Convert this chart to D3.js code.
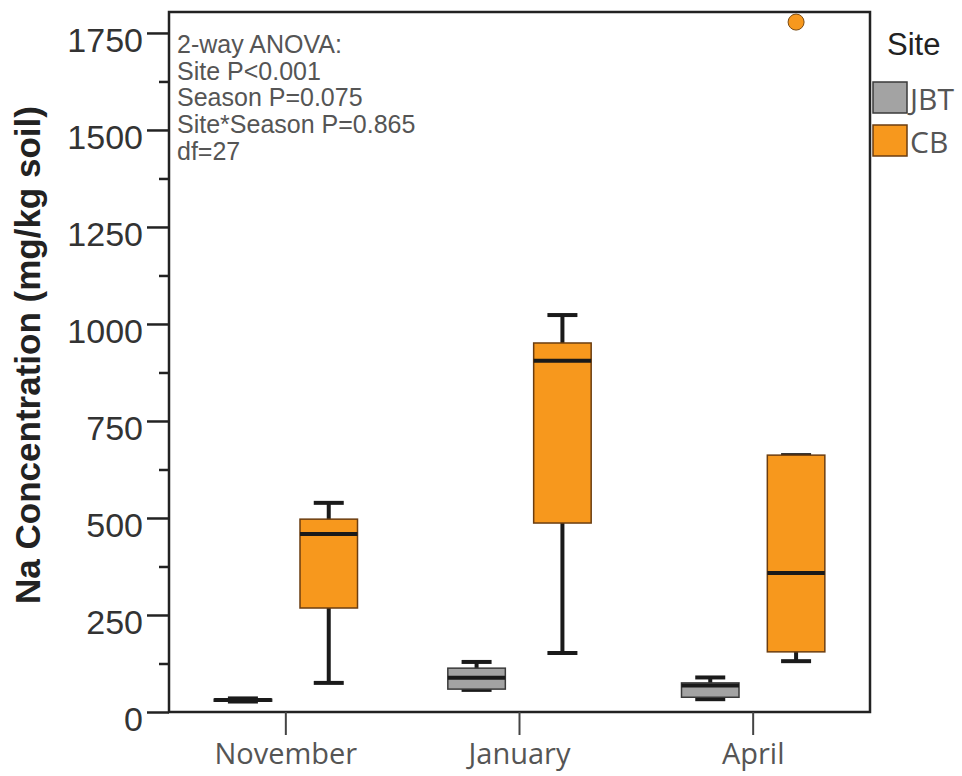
<html>
<script src='https://d3js.org/d3.v7.min.js'></script>
<style>
body {margin: 0; background: white;}
</style>
<body>
<svg width=962 height=776></svg>
<script>
// data
var months = ["November", "January", "April"];
var sites = ["JBT", "CB"];
var yTicks = [0, 250, 500, 750, 1000, 1250, 1500, 1750];
var jbtLow    = [27, 57, 33];
var jbtQ1     = [29, 59, 38];
var jbtMedian = [31, 88, 68];
var jbtQ3     = [33, 113, 75];
var jbtHigh   = [35, 129, 89];
var cbLow    = [75, 152, 131];
var cbQ1     = [268, 487, 155];
var cbMedian = [459, 905, 358];
var cbQ3     = [497, 951, 662];
var cbHigh   = [539, 1023, 662];
var outliers = [{month: "April", site: "CB", value: 1778}];
var anovaLines = ["2-way ANOVA:", "Site P<0.001", "Season P=0.075", "Site*Season P=0.865", "df=27"];

var boxes = [];
months.forEach(function(m, i) {
    boxes.push({month: m, site: "JBT", low: jbtLow[i], q1: jbtQ1[i], med: jbtMedian[i], q3: jbtQ3[i], high: jbtHigh[i]});
    boxes.push({month: m, site: "CB", low: cbLow[i], q1: cbQ1[i], med: cbMedian[i], q3: cbQ3[i], high: cbHigh[i]});
});

//layout (plot frame edges)
var plotL = 169, plotR = 870, plotT = 12, plotB = 712;
var svg = d3.select("svg");

//scales
var xscale = d3.scaleBand().domain(months).range([plotL, plotR]);
var sitescale = d3.scaleBand().domain(sites).range([-100, 100]).padding(0.33);
var yscale = d3.scaleLinear().domain([0, 1804]).range([plotB, plotT]);
var colorscale = d3.scaleOrdinal().domain(sites).range(["#a3a3a3", "#f7981d"]);
var strokescale = d3.scaleOrdinal().domain(sites).range(["#3a3a3a", "#6b3d10"]);

function cx(d) {return xscale(d.month) + xscale.bandwidth() / 2 + sitescale(d.site) + sitescale.bandwidth() / 2;}
var capw = 30;

//boxes
var g = svg.append("g");
var bx = g.selectAll("g.box").data(boxes).enter().append("g").attr("class", "box");

bx.append("line")
    .attr("x1", cx).attr("x2", cx)
    .attr("y1", function(d) {return yscale(d.high);})
    .attr("y2", function(d) {return yscale(d.low);})
    .style("stroke", "#1a1a1a").style("stroke-width", 4);
bx.append("line")
    .attr("x1", function(d) {return cx(d) - capw / 2;}).attr("x2", function(d) {return cx(d) + capw / 2;})
    .attr("y1", function(d) {return yscale(d.high);}).attr("y2", function(d) {return yscale(d.high);})
    .style("stroke", "#1a1a1a").style("stroke-width", 4);
bx.append("line")
    .attr("x1", function(d) {return cx(d) - capw / 2;}).attr("x2", function(d) {return cx(d) + capw / 2;})
    .attr("y1", function(d) {return yscale(d.low);}).attr("y2", function(d) {return yscale(d.low);})
    .style("stroke", "#1a1a1a").style("stroke-width", 4);
bx.append("rect")
    .attr("x", function(d) {return cx(d) - sitescale.bandwidth() / 2;})
    .attr("width", sitescale.bandwidth())
    .attr("y", function(d) {return yscale(d.q3);})
    .attr("height", function(d) {return Math.max(2, yscale(d.q1) - yscale(d.q3));})
    .style("fill", function(d) {return colorscale(d.site);})
    .style("stroke", function(d) {return strokescale(d.site);})
    .style("stroke-width", 1.5);
bx.append("line")
    .attr("x1", function(d) {return cx(d) - sitescale.bandwidth() / 2;})
    .attr("x2", function(d) {return cx(d) + sitescale.bandwidth() / 2;})
    .attr("y1", function(d) {return yscale(d.med);}).attr("y2", function(d) {return yscale(d.med);})
    .style("stroke", "#1a1a1a").style("stroke-width", 4);

//outliers
g.selectAll("circle").data(outliers).enter().append("circle")
    .attr("cx", cx)
    .attr("cy", function(d) {return yscale(d.value);})
    .attr("r", 8)
    .style("fill", function(d) {return colorscale(d.site);})
    .style("stroke", "#7a4a12").style("stroke-width", 1);

//frame
svg.append("rect")
    .attr("x", plotL).attr("y", plotT)
    .attr("width", plotR - plotL).attr("height", plotB - plotT)
    .style("fill", "none").style("stroke", "#222").style("stroke-width", 2.5);

//y axis
var yaxis = svg.append("g")
    .attr("transform", "translate(" + plotL + ",0)")
    .call(d3.axisLeft(yscale).tickValues(yTicks).tickFormat(d3.format("d")).tickSize(22).tickPadding(4));
yaxis.select(".domain").remove();
yaxis.selectAll(".tick line").style("stroke", "#222").style("stroke-width", 2.5);
yaxis.selectAll(".tick text")
    .attr("dy", "0.55em")
    .style("font-family", "Liberation Sans, Arial, sans-serif")
    .style("font-size", "34px")
    .style("fill", "#333");
svg.append("g")
    .attr("transform", "translate(" + plotL + ",0)")
    .call(d3.axisLeft(yscale).tickValues(yTicks.slice(0, -1).map(function(v) {return v + 125;})).tickSize(10).tickFormat(""))
    .call(function(a) {a.select(".domain").remove();})
    .selectAll(".tick line").style("stroke", "#222").style("stroke-width", 2.5);

svg.append("text")
    .attr("transform", "translate(40," + 355 + ") rotate(-90)")
    .attr("text-anchor", "middle")
    .style("font-family", "Liberation Sans, Arial, sans-serif")
    .style("font-weight", "bold")
    .style("font-size", "35px")
    .style("fill", "#222")
    .text("Na Concentration (mg/kg soil)");

//x axis
var xaxis = svg.append("g")
    .attr("transform", "translate(0," + plotB + ")")
    .call(d3.axisBottom(xscale).tickSize(23).tickPadding(8));
xaxis.select(".domain").remove();
xaxis.selectAll(".tick line").style("stroke", "#444").style("stroke-width", 2);
xaxis.selectAll(".tick text")
    .style("font-family", "Open Sans, sans-serif")
    .style("font-size", "29px")
    .style("fill", "#555");

//anova note
svg.append("g").selectAll("text").data(anovaLines).enter().append("text")
    .attr("x", plotL + 8)
    .attr("y", function(d, i) {return 53 + i * 26.7;})
    .style("font-family", "Liberation Sans, Arial, sans-serif")
    .style("font-size", "25px")
    .style("fill", "#555")
    .text(function(d) {return d;});

//legend
svg.append("text").attr("x", 887).attr("y", 55).text("Site")
    .style("font-family", "Liberation Sans, Arial, sans-serif").style("font-size", "31px").style("fill", "#222");
var lg = svg.append("g").selectAll("g").data(sites).enter().append("g")
    .attr("transform", function(d, i) {return "translate(873," + (82 + i * 43) + ")";});
lg.append("rect").attr("width", 34).attr("height", 31)
    .style("fill", function(d) {return colorscale(d);})
    .style("stroke", function(d) {return strokescale(d);}).style("stroke-width", 1.5);
lg.append("text").attr("x", 37).attr("y", 28).text(function(d) {return d;})
    .style("font-family", "Open Sans, sans-serif").style("font-size", "30px").style("fill", "#555");
</script>
</body>
</html>
